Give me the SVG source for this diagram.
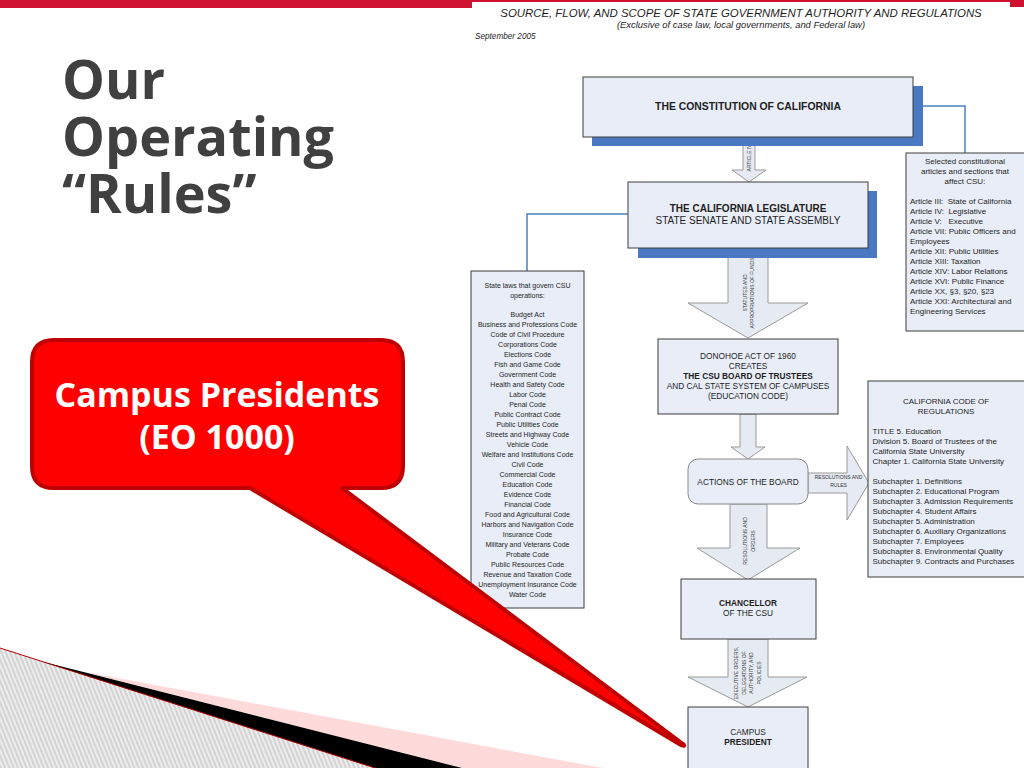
<svg xmlns="http://www.w3.org/2000/svg" width="1024" height="768" viewBox="0 0 1024 768">
<defs>
<pattern id="hatch" width="4" height="4" patternUnits="userSpaceOnUse" patternTransform="rotate(-22)">
<rect width="4" height="4" fill="#ededed"/>
<line x1="1" y1="0" x2="1" y2="4" stroke="#c2c2c2" stroke-width="1.2"/>
</pattern>
</defs>
<style>
.box{fill:#e8edf7;stroke:#3c3c3c;stroke-width:1}
.shadow{fill:#4a78c2}
.arrow{fill:#e6eaf3;stroke:#9a9a9a;stroke-width:1}
.link{fill:none;stroke:#4f81bd;stroke-width:1.5}
.t{font-family:"Liberation Sans",Arial,sans-serif;fill:#1e1e1e}
.c{text-anchor:middle}
.b{font-weight:bold}
.lbl{font-family:"Liberation Sans",Arial,sans-serif;font-size:5px;fill:#333;text-anchor:middle}
.s7{font-size:7px}
.s8{font-size:8px}
.s83{font-size:8.3px}
.title{font-family:"Open Sans","Noto Sans",sans-serif;font-weight:bold;font-size:54px;fill:#404040}
.bubble{font-family:"Open Sans","Noto Sans",sans-serif;font-weight:bold;font-size:34px;fill:#ffffff;text-anchor:middle}
</style>
<rect width="1024" height="768" fill="#ffffff"/>
<!-- top red bar -->
<rect x="0" y="0" width="472" height="8" fill="#cf1230"/>
<rect x="472" y="0" width="538" height="2" fill="#cf1230"/>
<rect x="1010" y="0" width="14" height="7" fill="#cf1230"/>
<!-- bottom-left decoration -->
<g id="decoration">
<polygon points="0,648 375,768 0,768" fill="url(#hatch)"/>
<polygon points="80,671 603,768 462,768" fill="#ffdada"/>
<polygon points="40,661 462,768 375,768" fill="#000000"/>
<line x1="0" y1="648" x2="375" y2="768" stroke="#b00000" stroke-width="1"/>
</g>
<!-- slide title -->
<g id="slide-title">
<text class="title" x="62" y="99">Our</text>
<text class="title" x="62" y="156">Operating</text>
<text class="title" x="62" y="213">“Rules”</text>
</g>
<!-- diagram header -->
<g id="header">
<text class="t c" x="741" y="17" font-size="11.4" font-style="italic">SOURCE, FLOW, AND SCOPE OF STATE GOVERNMENT AUTHORITY AND REGULATIONS</text>
<text class="t c" x="741" y="28" font-size="9.4" font-style="italic">(Exclusive of case law, local governments, and Federal law)</text>
<text class="t" x="475" y="38.5" font-size="8.2" font-style="italic">September 2005</text>
</g>
<!-- connectors -->
<g id="connectors">
<polyline class="link" points="913,106 965,106 965,153"/>
<polyline class="link" points="628,214 527,214 527,271"/>
<g id="arrow-article-iv">
<polygon class="arrow" points="743,137 755,137 755,170 766,170 749,182 732,170 743,170"/>
<text class="lbl" font-size="5.5" transform="translate(749,158) rotate(-90)" y="2">ARTICLE IV</text>
</g>
<g id="arrow-statutes">
<polygon class="arrow" points="728,248 768,248 768,303 808,303 748,338 688,303 728,303"/>
<text class="lbl" transform="translate(748,293) rotate(-90)"><tspan x="0" y="-1.5">STATUTES AND</tspan><tspan x="0" y="5.5">APPROPRIATIONS OF FUNDS</tspan></text>
</g>
<g id="arrow-creates">
<polygon class="arrow" points="740,414 756,414 756,447 765,447 748,459 731,447 740,447"/>
</g>
<g id="arrow-rules">
<polygon class="arrow" points="808,473 847,473 847,446 869,483 847,520 847,493 808,493"/>
<text class="lbl"><tspan x="838.5" y="478.5">RESOLUTIONS AND</tspan><tspan x="838.5" y="486.5">RULES</tspan></text>
</g>
<g id="arrow-orders">
<polygon class="arrow" points="730,504 767,504 767,548 800,548 748,580 697,548 730,548"/>
<text class="lbl" transform="translate(748,541) rotate(-90)"><tspan x="0" y="-1.5">RESOLUTIONS AND</tspan><tspan x="0" y="6.5">ORDERS</tspan></text>
</g>
<g id="arrow-executive">
<polygon class="arrow" points="728,639 768,639 768,677 807,677 748,707 688,677 728,677"/>
<text class="lbl" transform="translate(748,673) rotate(-90)"><tspan x="0" y="-10">EXECUTIVE ORDERS,</tspan><tspan x="0" y="-2.3">DELEGATIONS OF</tspan><tspan x="0" y="5.4">AUTHORITY, AND</tspan><tspan x="0" y="13">POLICIES</tspan></text>
</g>
</g>
<!-- nodes -->
<g id="constitution">
<rect class="shadow" x="592" y="86" width="331" height="60"/>
<rect class="box" x="583" y="77" width="330" height="60"/>
<text class="t c b" x="748" y="110" font-size="10.4">THE CONSTITUTION OF CALIFORNIA</text>
</g>
<g id="legislature">
<rect class="shadow" x="638" y="191" width="239" height="67"/>
<rect class="box" x="628" y="182" width="240" height="66"/>
<text class="t c b" x="748" y="212" font-size="10">THE CALIFORNIA LEGISLATURE</text>
<text class="t c" x="748" y="224" font-size="10">STATE SENATE AND STATE ASSEMBLY</text>
</g>
<g id="selected-articles">
<rect class="box" x="906" y="153" width="130" height="178"/>
<text class="t c s8" x="965" y="164">Selected constitutional</text>
<text class="t c s8" x="965" y="174">articles and sections that</text>
<text class="t c s8" x="965" y="184">affect CSU:</text>
<text class="t s8" x="910" y="203.5" xml:space="preserve">Article III:  State of California</text>
<text class="t s8" x="910" y="213.5" xml:space="preserve">Article IV:  Legislative</text>
<text class="t s8" x="910" y="223.5" xml:space="preserve">Article V:   Executive</text>
<text class="t s8" x="910" y="233.5">Article VII: Public Officers and</text>
<text class="t s8" x="910" y="243.5">Employees</text>
<text class="t s8" x="910" y="253.5">Article XII: Public Utilities</text>
<text class="t s8" x="910" y="263.5">Article XIII: Taxation</text>
<text class="t s8" x="910" y="273.5">Article XIV: Labor Relations</text>
<text class="t s8" x="910" y="283.5">Article XVI: Public Finance</text>
<text class="t s8" x="910" y="293.5">Article XX, §3, §20, §23</text>
<text class="t s8" x="910" y="303.5">Article XXI: Architectural and</text>
<text class="t s8" x="910" y="313.5">Engineering Services</text>
</g>
<g id="state-laws">
<rect class="box" x="471" y="271" width="113" height="337"/>
<g class="t c s7">
<text x="527.5" y="287.5">State laws that govern CSU</text>
<text x="527.5" y="297.5">operations:</text>
<text x="527.5" y="316.5">Budget Act</text>
<text x="527.5" y="326.5">Business and Professions Code</text>
<text x="527.5" y="336.5">Code of Civil Procedure</text>
<text x="527.5" y="346.5">Corporations Code</text>
<text x="527.5" y="356.5">Elections Code</text>
<text x="527.5" y="366.5">Fish and Game Code</text>
<text x="527.5" y="376.5">Government Code</text>
<text x="527.5" y="386.5">Health and Safety Code</text>
<text x="527.5" y="396.5">Labor Code</text>
<text x="527.5" y="406.5">Penal Code</text>
<text x="527.5" y="416.5">Public Contract Code</text>
<text x="527.5" y="426.5">Public Utilities Code</text>
<text x="527.5" y="436.5">Streets and Highway Code</text>
<text x="527.5" y="446.5">Vehicle Code</text>
<text x="527.5" y="456.5">Welfare and Institutions Code</text>
<text x="527.5" y="466.5">Civil Code</text>
<text x="527.5" y="476.5">Commercial Code</text>
<text x="527.5" y="486.5">Education Code</text>
<text x="527.5" y="496.5">Evidence Code</text>
<text x="527.5" y="506.5">Financial Code</text>
<text x="527.5" y="516.5">Food and Agricultural Code</text>
<text x="527.5" y="526.5">Harbors and Navigation Code</text>
<text x="527.5" y="536.5">Insurance Code</text>
<text x="527.5" y="546.5">Military and Veterans Code</text>
<text x="527.5" y="556.5">Probate Code</text>
<text x="527.5" y="566.5">Public Resources Code</text>
<text x="527.5" y="576.5">Revenue and Taxation Code</text>
<text x="527.5" y="586.5">Unemployment Insurance Code</text>
<text x="527.5" y="596.5">Water Code</text>
</g>
</g>
<g id="donohoe">
<rect class="box" x="658" y="339" width="180" height="75"/>
<text class="t c s83" x="748" y="359">DONOHOE ACT OF 1960</text>
<text class="t c s83" x="748" y="369">CREATES</text>
<text class="t c s83 b" x="748" y="379">THE CSU BOARD OF TRUSTEES</text>
<text class="t c s83" x="748" y="389">AND CAL STATE SYSTEM OF CAMPUSES</text>
<text class="t c s83" x="748" y="399">(EDUCATION CODE)</text>
</g>
<g id="actions">
<rect class="box" x="688" y="459" width="120" height="45" rx="10" ry="10" style="stroke:#8a8a8a"/>
<text class="t c s83" x="748" y="484.5">ACTIONS OF THE BOARD</text>
</g>
<g id="ccr">
<rect class="box" x="868" y="381" width="170" height="196"/>
<text class="t c s8" x="946" y="403.5">CALIFORNIA CODE OF</text>
<text class="t c s8" x="946" y="413.5">REGULATIONS</text>
<text class="t s8" x="872.5" y="433.5">TITLE 5. Education</text>
<text class="t s8" x="872.5" y="443.5">Division 5. Board of Trustees of the</text>
<text class="t s8" x="872.5" y="453.5">California State University</text>
<text class="t s8" x="872.5" y="463.5">Chapter 1. California State University</text>
<text class="t s8" x="872.5" y="483.5">Subchapter 1. Definitions</text>
<text class="t s8" x="872.5" y="493.5">Subchapter 2. Educational Program</text>
<text class="t s8" x="872.5" y="503.5">Subchapter 3. Admission Requirements</text>
<text class="t s8" x="872.5" y="513.5">Subchapter 4. Student Affairs</text>
<text class="t s8" x="872.5" y="523.5">Subchapter 5. Administration</text>
<text class="t s8" x="872.5" y="533.5">Subchapter 6. Auxiliary Organizations</text>
<text class="t s8" x="872.5" y="543.5">Subchapter 7. Employees</text>
<text class="t s8" x="872.5" y="553.5">Subchapter 8. Environmental Quality</text>
<text class="t s8" x="872.5" y="563.5">Subchapter 9. Contracts and Purchases</text>
</g>
<g id="chancellor">
<rect class="box" x="681" y="579" width="135" height="60"/>
<text class="t c s83 b" x="748" y="606">CHANCELLOR</text>
<text class="t c s83" x="748" y="616">OF THE CSU</text>
</g>
<g id="campus-president">
<rect class="box" x="688" y="707" width="120" height="64"/>
<text class="t c s83" x="748" y="734.5">CAMPUS</text>
<text class="t c s83 b" x="748" y="744.5">PRESIDENT</text>
</g>
<!-- callout -->
<g id="callout">
<path d="M 54,340 H 381 Q 403,340 403,362 V 466 Q 403,488 381,488 H 342 L 683,744 Q 686,747 681,745 L 250,488 H 54 Q 32,488 32,466 V 362 Q 32,340 54,340 Z" fill="#ff0000" stroke="#c00000" stroke-width="4" stroke-linejoin="round"/>
<text class="bubble" x="217" y="407">Campus Presidents</text>
<text class="bubble" x="217" y="449">(EO 1000)</text>
</g>
</svg>
